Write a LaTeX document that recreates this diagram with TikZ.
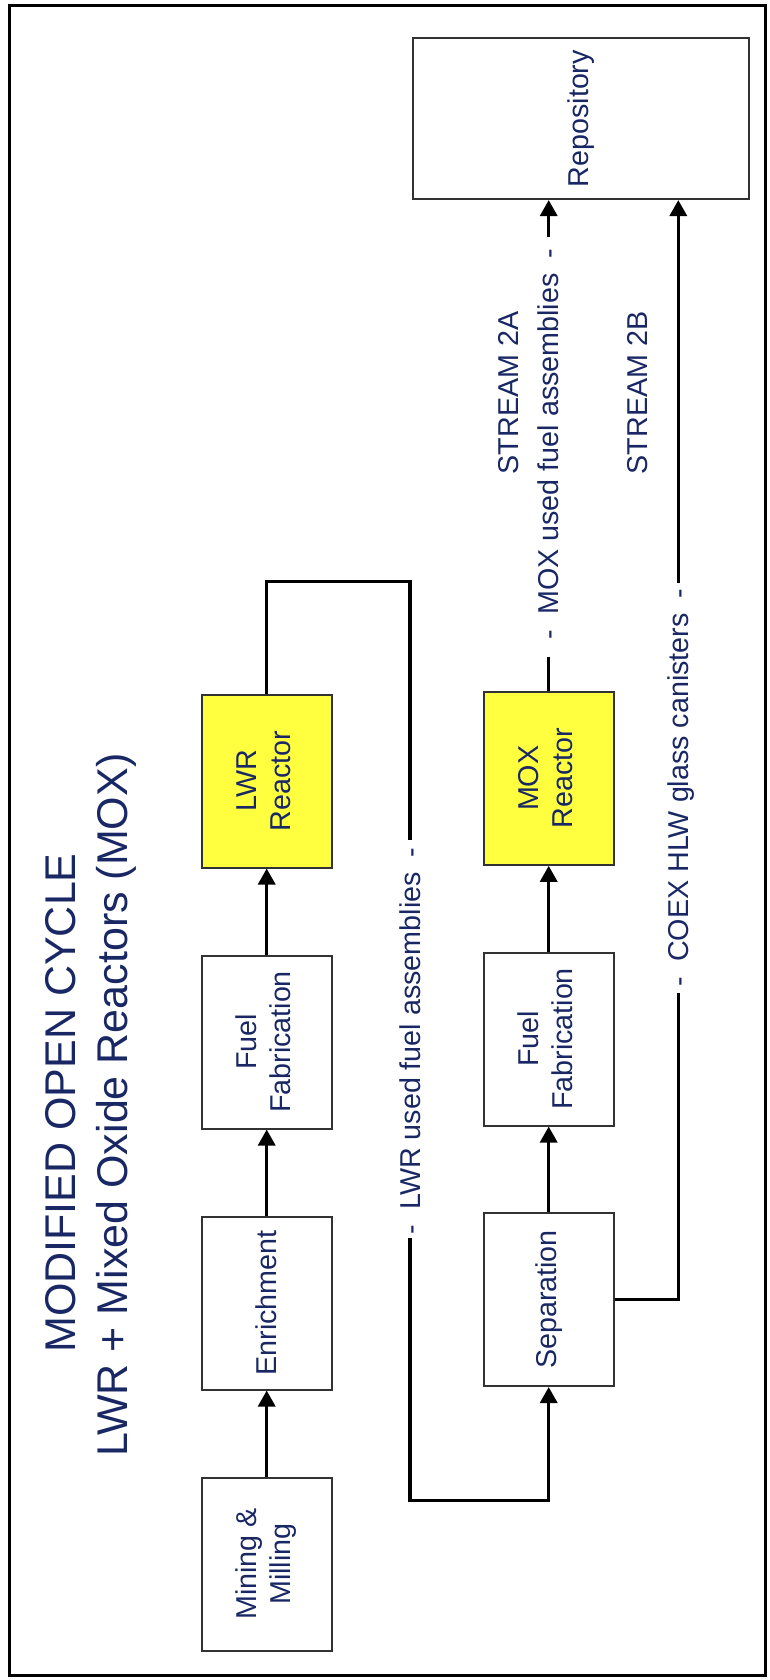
\documentclass[tikz,border=0pt]{standalone}
\usepackage{fontspec}
\setmainfont{Liberation Sans}
\usetikzlibrary{arrows.meta}
\definecolor{txt}{RGB}{25,40,100}
\definecolor{boxyellow}{RGB}{255,255,64}
\definecolor{edge}{RGB}{50,50,50}
\newcommand{\twol}[2]{\rotatebox{90}{\begin{tabular}{@{}c@{}}#1\\#2\end{tabular}}}
\begin{document}
\begin{tikzpicture}[x=1pt,y=-1pt,
  stage/.style={draw=edge, line width=2pt, minimum width=130pt, minimum height=173pt,
    inner sep=0pt, text=txt, font=\fontsize{28.7}{34}\selectfont},
  reactor/.style={stage, fill=boxyellow},
  conn/.style={line width=3.3pt},
  arr/.style={conn, -{Triangle[width=17pt,length=16pt]}},
  lbl/.style={rotate=90, anchor=base, inner sep=0pt, text=txt,
    font=\fontsize{28.7}{34}\selectfont},
  ttl/.style={lbl, font=\fontsize{43}{52}\selectfont},
]
\useasboundingbox (0,0) rectangle (769,1680);
\draw[line width=3pt] (9.3,6) rectangle (765,1675);

% boxes
\node[reactor] (lwr) at (266.7,781) {\twol{LWR}{Reactor}};
\node[stage] (ff1) at (266.7,1042) {\twol{Fuel}{Fabrication}};
\node[stage] (enr) at (266.7,1303) {\rotatebox{90}{Enrichment}};
\node[stage] (mine) at (266.7,1564) {\twol{Mining \&}{Milling}};
\node[reactor] (mox) at (548.7,778.3) {\twol{MOX}{Reactor}};
\node[stage] (ff2) at (548.7,1039) {\twol{Fuel}{Fabrication}};
\node[stage] (sep) at (548.7,1299.5) {\rotatebox{90}{Separation}};
\node[stage, minimum width=336.6pt, minimum height=160.7pt] (repo) at (581,118.7) {\rotatebox{90}{Repository}};

% straight arrows
\draw[arr] (mine.north) -- (enr.south);
\draw[arr] (enr.north) -- (ff1.south);
\draw[arr] (ff1.north) -- (lwr.south);
\draw[arr] (sep.north) -- (ff2.south);
\draw[arr] (ff2.north) -- (mox.south);

% LWR used fuel loop
\coordinate (l1) at (410,840);
\coordinate (l2) at (410,1238);
\draw[conn] (lwr.north) -- ++(0,-112) -| (l1);
\draw[arr] (l2) -- (410,1500.7) -| (sep.south);

% MOX used fuel to repository
\coordinate (m1) at (548.7,656.7);
\coordinate (m2) at (548.7,236.7);
\draw[conn] (mox.north) -- (m1);
\draw[arr] (m2) -- (m2 |- repo.south);

% COEX HLW to repository
\coordinate (c1) at (678.3,993);
\coordinate (c2) at (678.3,583);
\draw[conn] (sep.east) -| (c1);
\draw[arr] (c2) -- (c2 |- repo.south);

% labels
\node[lbl] (lwrlab) at (420,1041) {-\hspace{15pt}LWR used fuel assemblies\hspace{15pt}-};
\node[lbl] (moxlab) at (558.3,444) {-\hspace{15pt}MOX used fuel assemblies\hspace{15pt}-};
\node[lbl] (coexlab) at (688,787.5) {-\hspace{15pt}COEX HLW glass canisters\hspace{15pt}-};
\node[lbl] (s2a) at (518,393) {STREAM 2A};
\node[lbl] (s2b) at (647,393) {STREAM 2B};

% title
\node[ttl] (t1) at (75,1103) {MODIFIED OPEN CYCLE};
\node[ttl] (t2) at (127,1105) {LWR + Mixed Oxide Reactors (MOX)};
\end{tikzpicture}
\end{document}
